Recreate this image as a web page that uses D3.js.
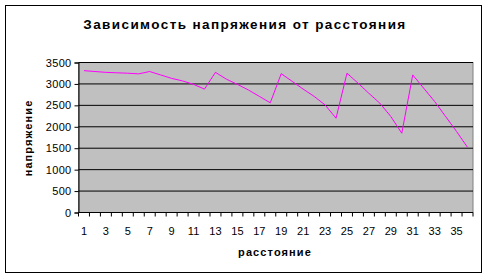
<!DOCTYPE html>
<html>
<head>
<meta charset="utf-8">
<script src="https://cdn.jsdelivr.net/npm/d3@7"></script>
<style>
body { margin: 0; background: #fff; }
text { font-family: "Liberation Sans", Arial, sans-serif; }
</style>
</head>
<body>
<div class="chart"></div>
<script>
// distance categories 1..36
let categories = ['1','2','3','4','5','6','7','8','9','10','11','12','13','14','15','16','17','18',
    '19','20','21','22','23','24','25','26','27','28','29','30','31','32','33','34','35','36'];
// voltage
let voltage = [3310, 3290, 3270, 3260, 3250, 3235, 3290, 3210, 3130, 3070, 2990, 2880,
    3270, 3110, 2990, 2860, 2710, 2560, 3240, 3060, 2880, 2710, 2510, 2200,
    3250, 3020, 2780, 2550, 2240, 1850, 3210, 2900, 2590, 2240, 1890, 1520];
let yTicks = [0, 500, 1000, 1500, 2000, 2500, 3000, 3500];

function drawLineChart() {
    let margin = {top: 62.5, right: 16, bottom: 66.5, left: 78.5};
    let svg = d3.select('.chart')
        .append('svg')
        .attr('width', 489)
        .attr('height', 279);
    let width = 489 - margin.left - margin.right;
    let height = 279 - margin.top - margin.bottom;

    // outer chart border
    svg.append('rect')
        .attr('x', 5.5).attr('y', 5.5)
        .attr('width', 476).attr('height', 267)
        .attr('fill', '#fff')
        .attr('stroke', '#000');

    svg.append('text')
        .attr('x', 245)
        .attr('y', 29)
        .attr('text-anchor', 'middle')
        .style('font-size', '13.5px')
        .style('font-weight', 'bold')
        .style('letter-spacing', '1.4px')
        .text('Зависимость напряжения от расстояния');

    let x = d3.scaleBand().domain(categories).range([0, width]);
    let y = d3.scaleLinear().domain([0, 3500]).range([height, 0]);

    let g = svg.append('g')
        .attr('transform', 'translate(' + margin.left + ',' + margin.top + ')');

    g.append('rect')
        .attr('width', width)
        .attr('height', height)
        .attr('fill', '#c0c0c0')
        .attr('stroke', '#808080');

    // gridlines
    g.selectAll('.grid')
        .data(yTicks.slice(1))
        .enter().append('line')
        .attr('class', 'grid')
        .attr('x1', 0).attr('x2', width)
        .attr('y1', d => y(d)).attr('y2', d => y(d))
        .attr('stroke', '#000');

    let yAxis = g.append('g')
        .call(d3.axisLeft(y).tickValues(yTicks).tickFormat(d3.format('d')).tickSize(4).tickPadding(3));
    yAxis.select('.domain').attr('stroke', '#000');
    yAxis.selectAll('text').style('font-size', '11px').attr('fill', '#000')
        .style('font-family', '"Liberation Sans", Arial, sans-serif')
        .style('letter-spacing', '0.3px');

    // x axis: ticks at category boundaries, labels at every other category
    let xAxis = g.append('g')
        .attr('transform', 'translate(0,' + height + ')');
    xAxis.append('line')
        .attr('x1', 0).attr('x2', width)
        .attr('stroke', '#000');
    let bounds = categories.map(c => x(c)).concat([width]);
    xAxis.selectAll('.xtick')
        .data(bounds)
        .enter().append('line')
        .attr('class', 'xtick')
        .attr('x1', d => d).attr('x2', d => d)
        .attr('y1', 0).attr('y2', 4)
        .attr('stroke', '#000');
    xAxis.selectAll('.xlabel')
        .data(categories.filter((c, i) => i % 2 === 0))
        .enter().append('text')
        .attr('class', 'xlabel')
        .attr('x', d => x(d) + x.bandwidth() / 2)
        .attr('y', 22)
        .attr('text-anchor', 'middle')
        .style('font-size', '11px')
        .text(d => d);

    let line = d3.line()
        .x((d, i) => x(categories[i]) + x.bandwidth() / 2)
        .y(d => y(d));
    g.append('path')
        .datum(voltage)
        .attr('d', line)
        .attr('fill', 'none')
        .attr('stroke', '#ff00ff')
        .attr('stroke-width', 1);

    svg.append('text')
        .attr('x', 275)
        .attr('y', 256)
        .attr('text-anchor', 'middle')
        .style('font-size', '11px')
        .style('font-weight', 'bold')
        .style('letter-spacing', '1.1px')
        .text('расстояние');

    svg.append('text')
        .attr('transform', 'translate(32,138) rotate(-90)')
        .attr('text-anchor', 'middle')
        .style('font-size', '11px')
        .style('font-weight', 'bold')
        .style('letter-spacing', '1.1px')
        .text('напряжение');
}

drawLineChart();
</script>
</body>
</html>
